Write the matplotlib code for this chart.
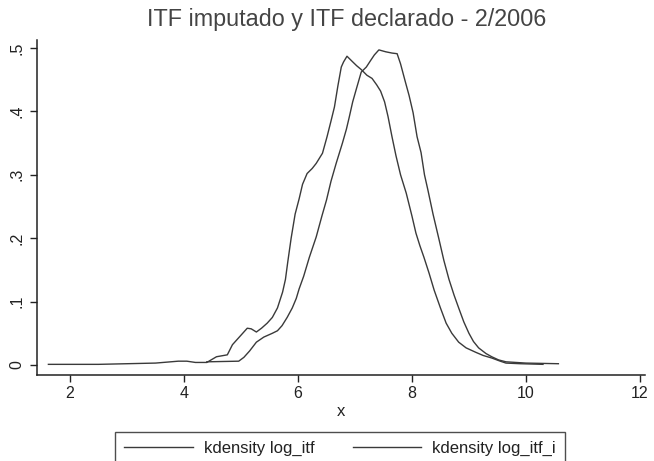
import matplotlib
matplotlib.use("Agg")
import matplotlib.pyplot as plt
from matplotlib.ticker import FixedLocator, FixedFormatter

plt.rcParams['font.family'] = ['Liberation Sans', 'DejaVu Sans']

title = "ITF imputado y ITF declarado - 2/2006"
xlabel = "x"
legend_labels = ["kdensity log_itf", "kdensity log_itf_i"]

x_ticks = [2, 4, 6, 8, 10, 12]
y_ticks = [0, 0.1, 0.2, 0.3, 0.4, 0.5]
y_tick_labels = ["0", ".1", ".2", ".3", ".4", ".5"]

# kdensity log_itf
itf_x = [1.62, 2.5, 3.0, 3.5, 3.9, 4.05, 4.2, 4.4, 4.57, 4.76, 4.85, 4.95, 5.03, 5.11,
         5.18, 5.27, 5.36, 5.46, 5.55, 5.64, 5.73, 5.78, 5.82, 5.88, 5.95, 6.02, 6.08,
         6.16, 6.25, 6.32, 6.43, 6.51, 6.58, 6.64, 6.70, 6.76, 6.80, 6.86, 6.95, 7.03,
         7.11, 7.21, 7.30, 7.38, 7.45, 7.52, 7.58, 7.65, 7.72, 7.80, 7.90, 8.0, 8.07,
         8.14, 8.21, 8.30, 8.39, 8.50, 8.60, 8.70, 8.82, 8.95, 9.12, 9.25, 9.4, 9.55,
         9.65, 9.9, 10.3]
itf_y = [0.001, 0.001, 0.002, 0.003, 0.006, 0.006, 0.004, 0.004, 0.013, 0.016, 0.032,
         0.042, 0.050, 0.058, 0.057, 0.052, 0.058, 0.066, 0.075, 0.090, 0.115, 0.135,
         0.162, 0.200, 0.238, 0.262, 0.285, 0.302, 0.310, 0.318, 0.334, 0.360, 0.385,
         0.407, 0.440, 0.470, 0.478, 0.487, 0.479, 0.472, 0.466, 0.457, 0.452, 0.442,
         0.432, 0.415, 0.392, 0.360, 0.330, 0.300, 0.271, 0.235, 0.208, 0.188, 0.170,
         0.145, 0.118, 0.090, 0.066, 0.050, 0.036, 0.027, 0.020, 0.015, 0.011, 0.006,
         0.003, 0.002, 0.001]

# kdensity log_itf_i
itfi_x = [4.4, 4.96, 5.05, 5.15, 5.27, 5.40, 5.55, 5.64, 5.72, 5.81, 5.90, 5.97, 6.02,
          6.10, 6.20, 6.32, 6.42, 6.50, 6.58, 6.67, 6.78, 6.85, 6.90, 6.96, 7.02, 7.11,
          7.20, 7.28, 7.34, 7.42, 7.54, 7.65, 7.74, 7.80, 7.88, 7.95, 8.02, 8.09, 8.16,
          8.22, 8.28, 8.37, 8.47, 8.56, 8.65, 8.74, 8.82, 8.91, 9.0, 9.08, 9.17, 9.3,
          9.4, 9.52, 9.65, 10.0, 10.57]
itfi_y = [0.005, 0.006, 0.012, 0.022, 0.036, 0.044, 0.050, 0.054, 0.062, 0.075, 0.090,
          0.105, 0.120, 0.140, 0.170, 0.202, 0.235, 0.260, 0.290, 0.318, 0.350, 0.372,
          0.391, 0.415, 0.434, 0.462, 0.470, 0.481, 0.489, 0.497, 0.494, 0.492, 0.491,
          0.475, 0.448, 0.425, 0.398, 0.360, 0.335, 0.300, 0.276, 0.238, 0.200, 0.165,
          0.135, 0.110, 0.090, 0.068, 0.050, 0.037, 0.027, 0.018, 0.013, 0.008, 0.005,
          0.003, 0.002]

W, H = 654, 461
fig = plt.figure(figsize=(W / 100, H / 100), dpi=100)
ax = fig.add_axes([37 / W, 86 / H, 608 / W, 335 / H])

col = "#3a3a3a"
l1, = ax.plot(itf_x, itf_y, color=col, lw=1.0)
l2, = ax.plot(itfi_x, itfi_y, color=col, lw=1.0)

ax.set_xlim(1.42, 12.09)
ax.set_ylim(-0.0158, 0.5126)

for s in ["top", "right"]:
    ax.spines[s].set_visible(False)
for s in ["left", "bottom"]:
    ax.spines[s].set_color("#222222")
    ax.spines[s].set_linewidth(1.1)

ax.xaxis.set_major_locator(FixedLocator(x_ticks))
ax.yaxis.set_major_locator(FixedLocator(y_ticks))
ax.yaxis.set_major_formatter(FixedFormatter(y_tick_labels))
ax.tick_params(axis="both", direction="out", length=5, width=1, color="#222222",
               labelsize=11.5, labelcolor="#222222")
ax.tick_params(axis="x", pad=3)
ax.tick_params(axis="y", pad=4)
for lab in ax.get_yticklabels():
    lab.set_rotation(90)
    lab.set_va("center")

ax.set_xlabel(xlabel, fontsize=12, color="#222222", labelpad=2)
fig.text(347 / W, 1 - 8 / H, title, fontsize=16.8, color="#444444",
         ha="center", va="top")

leg = fig.legend([l1, l2], legend_labels, loc="upper left",
                 bbox_to_anchor=(115 / W, 1 - 432 / H, 450 / W, 0.0),
                 mode="expand", ncol=2, fontsize=12, frameon=True, fancybox=False,
                 handlelength=4.1, handletextpad=0.66, borderpad=0.55,
                 borderaxespad=0)
leg.get_frame().set_edgecolor("#222222")
leg.get_frame().set_linewidth(1.0)
for t in leg.get_texts():
    t.set_color("#222222")

fig.savefig("out.png", dpi=100, facecolor="white")
